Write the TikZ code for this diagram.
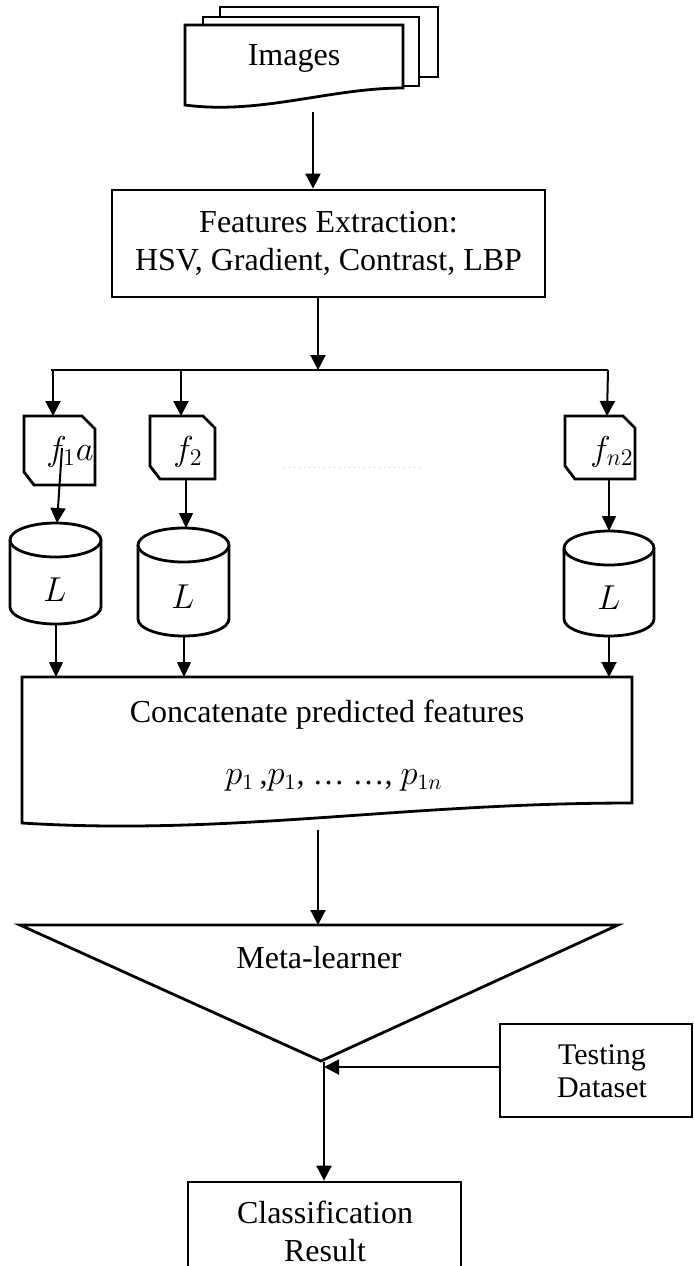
\documentclass[tikz,border=0pt]{standalone}
\usepackage{fontspec}
\setmainfont{Liberation Serif}
\usetikzlibrary{arrows.meta}
\begin{document}
\begin{tikzpicture}[x=0.5pt,y=-0.5pt,
  shp/.style={draw=black, line width=1.4pt, fill=white, line join=miter},
  arr/.style={line width=1pt, -{Triangle[length=7.5pt,width=7.5pt]}},
  tarr/.style={line width=0.8pt, -{Triangle[length=7.5pt,width=7pt]}},
  conn/.style={line width=1pt},
  lbl/.style={font=\fontsize{16}{19}\selectfont, align=center, inner sep=0pt},
  flbl/.style={font=\fontsize{17}{19}\selectfont, inner sep=0pt},
  slbl/.style={font=\fontsize{15}{16.5}\selectfont, align=center, inner sep=0pt},
  dots/.style={draw=gray!45, line width=0.5pt, dotted},
]
\useasboundingbox (0,0) rectangle (694,1266);
\clip (0,0) rectangle (694,1266);

% Images (stack of documents)
\draw[shp] (220,7) rectangle (438,77);
\draw[shp] (203,17) rectangle (419,86);
\draw[shp] (185,25) -- (403,25) -- (403,88) .. controls (330,88) and (260,115) .. (185,105) -- cycle;
\node[lbl] (img) at (294,58) {Images};
\coordinate (imgout) at (313,112);

% Features extraction
\node[shp, lbl, minimum width=216.5pt, minimum height=53.5pt] (fe) at (328.5,243.5)
  {Features Extraction:\\HSV, Gradient, Contrast, LBP};
\draw[arr] (imgout) -- (imgout |- fe.north);

% split
\coordinate (split) at (318,370);
\coordinate (hl) at (51,370);
\coordinate (hr) at (608,370);
\draw[arr] (fe.south -| split) -- (split);
\draw[conn] (hl) -- (hr);

% feature boxes
\draw[shp] (24,416) -- (82,416) -- (95,429) -- (95,485) -- (34,485) -- (24,472) -- cycle;
\draw[shp] (150,416) -- (203,416) -- (215,428) -- (215,479) -- (160,479) -- (150,466) -- cycle;
\draw[shp] (565,416) -- (623,416) -- (635,428) -- (635,479) -- (575,479) -- (565,466) -- cycle;
\node[flbl] (f1) at (70,452) {$f_1a$};
\node[flbl] (f2) at (188,452) {$f_2$};
\node[flbl] (fn) at (612,452) {$f_{n2}$};
\coordinate (f1in) at (53,416);
\coordinate (f2in) at (181,416);
\coordinate (fnin) at (607,416);
\draw[arr] (f1in |- hl) -- (f1in);
\draw[arr] (f2in |- hl) -- (f2in);
\draw[arr] (hr) -- (fnin);
\draw[dots] (284,467) -- (422,467);

% learners (cylinders)
\draw[shp] (10,540) -- (10,607) arc[start angle=180, end angle=360, x radius=22.75pt, y radius=8.5pt] -- (101,540);
\draw[shp] (55.5,540) ellipse [x radius=22.75pt, y radius=8.5pt];
\draw[shp] (138,545) -- (138,619) arc[start angle=180, end angle=360, x radius=22.75pt, y radius=8.5pt] -- (229,545);
\draw[shp] (183.5,545) ellipse [x radius=22.75pt, y radius=8.5pt];
\draw[shp] (564,548) -- (564,619) arc[start angle=180, end angle=360, x radius=22.5pt, y radius=8.5pt] -- (654,548);
\draw[shp] (609,548) ellipse [x radius=22.5pt, y radius=8.5pt];
\node[lbl] (l1) at (55,590) {$L$};
\node[lbl] (l2) at (183,597) {$L$};
\node[lbl] (l3) at (609,598) {$L$};

\coordinate (f1out) at (62,448);
\coordinate (c1in) at (57,523);
\coordinate (f2out) at (186,479);
\coordinate (c2in) at (186,528);
\coordinate (fnout) at (609,479);
\coordinate (c3in) at (609,531);
\draw[arr] (f1out) -- (c1in);
\draw[tarr] (f2out) -- (c2in);
\draw[tarr] (fnout) -- (c3in);

% concatenate box
\draw[shp] (22,677) -- (632,677) -- (632,803) .. controls (400,803) and (230,836) .. (22,823) -- cycle;
\node[lbl] (cat) at (327,715) {Concatenate predicted features};
\node[lbl] (pp) at (334,780) {$p_1$\,,$p_1$, … …, $p_{1n}$};

\coordinate (c1out) at (56,625);
\coordinate (k1) at (56,677);
\coordinate (c2out) at (184,636);
\coordinate (k2) at (184,677);
\coordinate (c3out) at (609,636);
\coordinate (k3) at (609,677);
\draw[tarr] (c1out) -- (k1);
\draw[tarr] (c2out) -- (k2);
\draw[arr] (c3out) -- (k3);

% meta-learner
\coordinate (catout) at (318,830);
\coordinate (mlin) at (318,925);
\draw[shp] (20,925) -- (618,925) -- (321,1061) -- cycle;
\draw[arr] (catout) -- (mlin);
\node[lbl] (ml) at (319,958) {Meta-learner};
\coordinate (mlv) at (324,1062);

% testing dataset
\node[shp, minimum width=96pt, minimum height=46.5pt, inner sep=0pt] (td) at (596,1070.5) {};
\node[slbl] (tdt) at (602,1071) {Testing\\Dataset};
\coordinate (tin) at (324,1067);
\draw[arr] (td.west |- tin) -- (tin);

% classification result
\node[shp, minimum width=136.5pt, minimum height=46.5pt, inner sep=0pt] (cr) at (324.5,1228.5) {};
\node[lbl] (crt) at (325,1231) {Classification\\Result};
\draw[arr] (mlv) -- (mlv |- cr.north);
\end{tikzpicture}
\end{document}
